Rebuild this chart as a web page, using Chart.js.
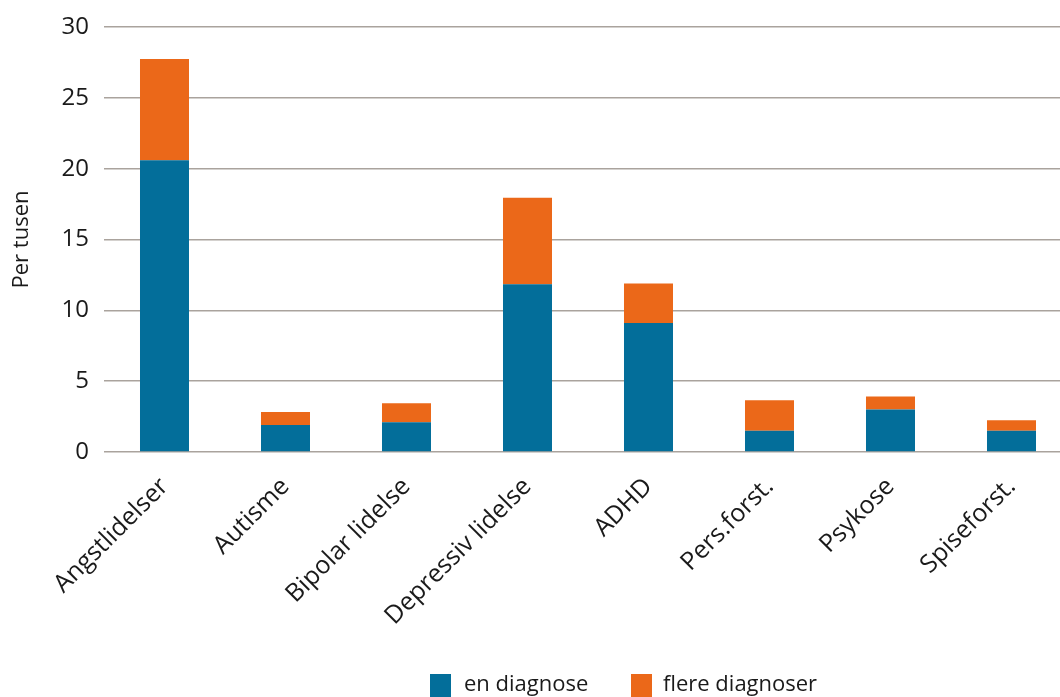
<!DOCTYPE html>
<html>
<head>
<meta charset="utf-8">
<script src="https://cdn.jsdelivr.net/npm/chart.js@4.4.0/dist/chart.umd.min.js"></script>
<style>
  html, body { margin: 0; padding: 0; background: #fff; overflow: hidden; width: 1060px; height: 697px; }
  #wrap { position: relative; width: 1072px; height: 697px; }
  canvas { position: absolute; left: 0; top: 0; }
  .leg { position: absolute; font-family: "Open Sans", "Noto Sans", sans-serif; font-size: 22px; color: #1a1a1a; line-height: 23px; white-space: nowrap; }
  .box { position: absolute; width: 21px; height: 23px; }
</style>
</head>
<body>
<div id="wrap">
  <canvas id="c" width="1072" height="697"></canvas>
  <div class="box" style="left:430px; top:674px; background:#036e9a;"></div>
  <div class="leg" style="left:464px; top:671px;">en diagnose</div>
  <div class="box" style="left:631px; top:674px; background:#eb6819;"></div>
  <div class="leg" style="left:663px; top:671px;">flere diagnoser</div>
</div>
<script>
const categories = ["Angstlidelser", "Autisme", "Bipolar lidelse", "Depressiv lidelse", "ADHD", "Pers.forst.", "Psykose", "Spiseforst."];
const enDiagnose = [20.6, 1.9, 2.1, 11.85, 9.1, 1.5, 3.0, 1.5];
const flereDiagnoser = [7.15, 0.92, 1.35, 6.1, 2.8, 2.15, 0.92, 0.75];
const seriesNames = ["en diagnose", "flere diagnoser"];
const yTicks = [0, 5, 10, 15, 20, 25, 30];

const FONT = '"Open Sans", "Noto Sans", sans-serif';
const TEXT = '#1a1a1a';

new Chart(document.getElementById('c'), {
  type: 'bar',
  data: {
    labels: categories,
    datasets: [
      { label: seriesNames[0], data: enDiagnose, backgroundColor: '#036e9a', categoryPercentage: 1, barPercentage: 0.405 },
      { label: seriesNames[1], data: flereDiagnoser, backgroundColor: '#eb6819', categoryPercentage: 1, barPercentage: 0.405 }
    ]
  },
  options: {
    responsive: false,
    animation: false,
    devicePixelRatio: 1,
    layout: { padding: { top: 26, left: 0, right: 0, bottom: 0 } },
    plugins: { legend: { display: false }, tooltip: { enabled: false } },
    scales: {
      x: {
        stacked: true,
        grid: { display: false },
        border: { display: false },
        ticks: { font: { family: FONT, size: 25 }, color: TEXT, minRotation: 45, maxRotation: 45, padding: 12 },
        afterFit: s => { s.height = 245; }
      },
      y: {
        stacked: true,
        min: 0, max: 30,
        afterBuildTicks: s => { s.ticks = yTicks.map(v => ({ value: v })); },
        grid: { color: '#aaa39d', lineWidth: 1.5, drawTicks: false },
        border: { display: false },
        ticks: { font: { family: FONT, size: 24, lineHeight: 1 }, color: TEXT, padding: 15 },
        title: { display: true, text: 'Per tusen', font: { family: FONT, size: 22 }, color: TEXT, padding: { top: 9, bottom: 0 } },
        afterFit: s => { s.width = 104; }
      }
    }
  }
});
</script>
</body>
</html>
